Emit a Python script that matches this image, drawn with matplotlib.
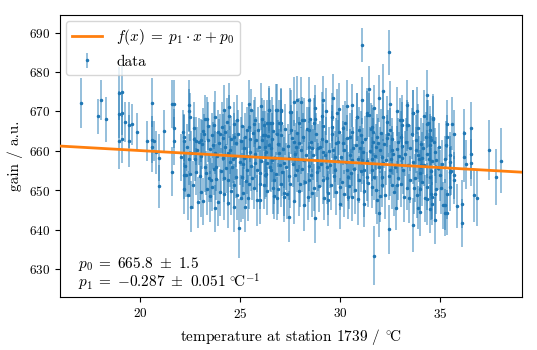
import matplotlib
matplotlib.use("Agg")
import matplotlib.pyplot as plt
import numpy as np
from matplotlib.colors import to_rgba

# --- data: temperature (x), gain (y), gain error ---
# sparse left part
temp_a = [17.03, 17.88, 18.0, 18.25, 18.95, 19.1, 18.95, 19.1, 18.95, 19.1,
          19.23, 19.45, 19.6, 19.45, 19.83, 20.32, 20.57, 20.6, 20.7, 20.57,
          20.8, 20.95, 20.95, 21.18, 21.57, 21.68, 21.68, 21.68, 21.58]
gain_a = [672.2, 668.8, 672.9, 668.0, 674.6, 675.0, 669.3, 669.5, 662.5, 663.0,
          667.3, 666.5, 666.8, 662.5, 664.7, 662.5, 672.2, 662.8, 662.5, 661.0,
          659.6, 658.3, 651.0, 665.0, 671.9, 671.9, 665.7, 662.5, 654.7]
err_a = [6.3, 4.4, 5.0, 5.7, 6.8, 6.5, 6.0, 5.5, 7.0, 6.0,
         5.0, 5.8, 5.2, 6.5, 4.8, 5.2, 6.2, 6.0, 5.0, 6.5,
         5.5, 6.0, 5.5, 5.5, 6.0, 6.2, 5.0, 6.0, 6.2]

# 22 - 26 degC
temp_b = [22.17, 22.2, 22.2, 22.3, 22.17, 22.42, 22.42, 22.5, 22.53, 22.67,
          22.78, 22.45, 22.55, 22.92, 23.03, 22.78, 23.02, 23.12, 23.17, 23.25,
          23.22, 23.37, 23.42, 23.52, 23.5, 23.62, 23.72, 23.75, 23.8, 23.87,
          23.87, 24.13, 24.17, 24.25, 24.2, 24.33, 24.37, 24.42, 24.45, 24.47,
          24.5, 24.58, 24.67, 24.75, 24.8, 24.85, 24.95, 25.02, 25.08, 25.17,
          25.22, 25.25, 25.33, 25.42, 25.33, 25.45, 25.5, 25.58, 25.7, 25.75,
          25.83, 25.92, 26.0, 26.05, 26.08, 26.12, 26.17, 23.33, 23.67, 23.97,
          24.2, 24.67, 25.08, 25.42, 25.53, 25.75, 26.2, 23.75, 24.67, 26.0]
gain_b = [663.4, 662.5, 653.8, 653.8, 650.4, 671.6, 670.2, 668.6, 645.8, 663.1,
          662.5, 657.8, 659.5, 662.3, 662.7, 654.7, 649.6, 665.0, 664.4, 668.2,
          656.0, 662.7, 653.0, 652.6, 648.5, 661.4, 659.5, 668.6, 655.8, 664.8,
          646.9, 663.3, 649.0, 661.0, 653.0, 667.4, 646.8, 671.2, 668.8, 660.2,
          657.2, 655.8, 663.6, 658.5, 653.4, 667.8, 640.3, 647.9, 653.4, 658.1,
          645.8, 663.6, 665.2, 666.1, 655.1, 651.7, 659.7, 653.0, 666.9, 656.8,
          655.1, 661.0, 651.7, 671.3, 668.0, 664.0, 651.3, 668.2, 666.5, 664.4,
          670.3, 666.9, 666.3, 672.0, 670.3, 667.8, 666.5, 645.4, 645.8, 647.5]
err_b = [6.0, 6.5, 6.0, 5.5, 6.5, 6.5, 5.5, 6.0, 6.5, 5.5,
         6.0, 6.5, 5.5, 6.0, 5.5, 6.0, 6.5, 6.0, 5.0, 6.0,
         6.5, 5.5, 6.0, 5.5, 6.5, 6.0, 5.5, 6.5, 6.0, 5.5,
         6.0, 6.0, 6.5, 5.5, 6.0, 6.0, 6.5, 6.0, 5.5, 6.0,
         6.5, 5.5, 6.0, 6.0, 5.5, 6.5, 7.5, 6.0, 6.0, 5.5,
         6.5, 6.0, 6.0, 5.5, 6.0, 6.5, 6.0, 5.5, 6.0, 6.0,
         5.5, 6.0, 6.5, 6.0, 5.5, 6.0, 6.0, 5.5, 6.0, 5.0,
         6.5, 5.5, 6.0, 6.0, 5.5, 6.0, 6.5, 6.0, 6.5, 6.0]

# 26 - 31 degC
temp_c = [26.45, 26.83, 27.05, 26.33, 26.58, 27.05, 27.55, 27.55, 26.58, 26.45,
          26.83, 26.92, 27.17, 27.42, 27.42, 26.33, 26.55, 26.67, 26.62, 26.83,
          27.05, 27.17, 27.33, 27.67, 27.8, 27.92, 27.72, 27.83, 28.0, 27.92,
          28.08, 28.2, 28.17, 28.17, 28.42, 28.5, 28.42, 28.58, 28.42, 28.58,
          28.67, 28.75, 28.75, 28.83, 28.92, 29.0, 29.12, 29.17, 29.25, 29.33,
          29.17, 29.38, 29.42, 29.58, 29.62, 29.67, 29.75, 29.75, 29.92, 30.0,
          30.0, 30.17, 30.25, 30.22, 30.33, 30.42, 30.38, 30.5, 30.58, 30.62,
          30.67, 26.25, 26.25, 26.3, 26.42, 26.5, 26.8, 26.92, 27.03, 27.5]
gain_c = [670.5, 670.5, 670.2, 667.0, 667.1, 667.0, 669.9, 665.4, 663.1, 661.4,
          664.4, 659.5, 657.0, 653.6, 643.3, 656.8, 655.1, 652.6, 650.5, 647.9,
          651.7, 648.3, 649.0, 662.3, 661.0, 662.0, 659.3, 655.1, 651.7, 667.0,
          667.8, 667.8, 657.6, 646.2, 665.2, 668.0, 661.0, 660.6, 652.6, 649.3,
          667.0, 668.2, 643.0, 657.6, 655.9, 661.0, 668.9, 666.3, 658.9, 655.9,
          652.6, 649.3, 647.5, 668.6, 666.1, 660.2, 658.5, 655.1, 662.3, 650.9,
          646.6, 665.7, 667.1, 660.2, 655.1, 653.4, 648.3, 663.6, 657.6, 648.2,
          660.6, 664.0, 661.0, 654.2, 670.5, 667.0, 670.5, 667.0, 670.5, 669.9]
err_c = [6.0, 6.5, 5.5, 6.0, 6.5, 6.0, 5.5, 6.2, 6.5, 6.0,
         5.5, 6.0, 6.5, 6.0, 6.5, 6.0, 5.5, 6.0, 6.5, 5.5,
         6.0, 6.5, 6.2, 5.5, 6.0, 6.5, 6.0, 5.5, 6.0, 6.5,
         6.0, 5.5, 6.2, 6.5, 6.0, 5.5, 6.5, 6.0, 5.5, 6.0,
         6.5, 6.0, 6.5, 5.5, 6.0, 6.5, 6.0, 5.5, 6.2, 6.5,
         6.0, 5.5, 6.5, 6.0, 5.5, 6.0, 6.5, 6.0, 5.5, 6.0,
         6.5, 6.0, 5.5, 6.0, 6.5, 6.2, 5.5, 6.0, 6.5, 6.0,
         5.5, 6.0, 6.5, 6.0, 5.5, 6.0, 6.5, 6.0, 5.5, 6.0]

# 31 - 35 degC (incl. outliers)
temp_d = [31.45, 31.7, 30.83, 30.95, 31.08, 31.33, 31.45, 31.22, 31.33, 31.0,
          31.12, 30.92, 31.22, 31.58, 31.67, 31.67, 31.78, 31.58, 31.72, 31.58,
          31.83, 31.95, 31.92, 32.0, 32.08, 32.17, 32.08, 32.17, 32.33, 32.42,
          32.5, 32.45, 32.58, 32.67, 32.5, 32.58, 32.83, 32.8, 32.92, 33.05,
          33.0, 33.08, 33.08, 33.17, 33.25, 33.33, 33.42, 33.33, 33.45, 33.67,
          33.72, 33.67, 33.78, 33.88, 33.92, 33.92, 34.08, 34.17, 34.25, 34.38,
          34.42, 34.5, 34.55, 34.5, 34.55, 34.62, 34.65, 34.75, 34.75, 34.83,
          35.0, 35.17, 31.08, 32.43]
gain_d = [675.6, 633.4, 668.6, 665.3, 662.3, 669.5, 669.1, 655.1, 653.4, 660.6,
          657.6, 647.7, 646.6, 666.1, 664.8, 662.3, 661.0, 655.1, 653.4, 650.9,
          647.5, 644.1, 661.9, 660.2, 658.5, 656.8, 653.4, 668.6, 667.4, 664.4,
          665.2, 640.1, 660.2, 659.3, 655.1, 651.3, 651.3, 645.6, 662.3, 663.6,
          667.8, 666.5, 658.1, 655.1, 659.3, 666.5, 666.5, 650.5, 647.9, 669.5,
          650.5, 641.1, 660.2, 658.9, 665.7, 645.6, 656.4, 660.6, 647.9, 674.2,
          667.0, 663.6, 662.7, 653.4, 649.0, 646.6, 668.4, 659.7, 642.4, 657.6,
          653.8, 646.2, 686.9, 685.0]
err_d = [6.0, 7.4, 6.2, 5.8, 6.0, 6.5, 5.5, 6.0, 6.2, 5.8,
         6.0, 6.5, 6.0, 5.5, 6.2, 6.0, 5.8, 6.5, 6.0, 5.5,
         6.2, 6.0, 6.5, 5.8, 6.0, 6.2, 5.5, 6.0, 6.5, 6.0,
         5.8, 6.2, 6.0, 5.5, 6.5, 6.0, 6.2, 5.8, 6.0, 6.5,
         5.5, 6.0, 6.2, 6.0, 5.8, 6.5, 6.0, 5.5, 6.2, 6.0,
         6.5, 6.8, 5.8, 6.0, 6.2, 5.5, 6.0, 6.5, 6.0, 6.3,
         6.0, 5.8, 6.2, 6.0, 6.5, 5.5, 6.0, 6.2, 6.0, 5.8,
         6.5, 6.0, 4.4, 5.7]

temp_e = [34.38, 34.53, 34.53, 34.13, 34.38, 34.62, 34.62, 34.53, 34.38, 34.0,
          34.0, 34.0, 34.75]
gain_e = [666.8, 665.3, 661.4, 658.3, 659.2, 657.4, 648.3, 645.2, 647.7, 644.5,
          650.2, 654.3, 649.0]
err_e = [6.2, 6.0, 5.8, 6.5, 6.0, 6.2, 5.5, 6.0, 6.5, 6.2, 6.0, 5.8, 6.5]

# sparse right part
temp_f = [35.12, 35.25, 35.37, 35.62, 35.37, 35.5, 35.5, 35.5, 35.5, 35.25,
          35.25, 35.37, 35.37, 35.73, 35.73, 35.73, 35.87, 36.1, 36.1, 36.22,
          36.22, 36.33, 36.58, 36.58, 36.58, 36.72, 36.85, 37.45, 37.82, 38.07]
gain_f = [656.6, 657.8, 666.9, 666.9, 663.4, 658.9, 657.2, 654.7, 650.7, 646.3,
          644.3, 649.0, 644.3, 664.2, 653.8, 652.6, 646.0, 646.6, 641.7, 664.6,
          658.5, 656.6, 665.9, 659.3, 657.0, 648.7, 647.9, 660.3, 653.3, 657.5]
err_f = [6.2, 6.0, 6.1, 6.8, 5.8, 6.0, 6.5, 6.2, 6.0, 6.5,
         6.0, 6.2, 5.8, 6.3, 6.0, 6.2, 5.7, 6.1, 6.1, 6.1,
         6.5, 6.2, 6.6, 6.4, 6.0, 6.8, 7.0, 7.6, 7.1, 8.2]

# upper edge of the cloud
temp_g = [28.42, 29.13, 29.63, 29.97, 30.58, 30.83, 31.33, 32.17, 31.97, 32.5,
          33.08, 33.33, 33.67, 34.67, 27.67, 27.83, 28.03, 28.75, 29.3, 29.83,
          30.33, 31.1, 31.7, 32.83, 33.83, 34.2]
gain_g = [672.9, 672.9, 673.5, 670.7, 671.6, 668.6, 669.1, 675.2, 673.3, 672.0,
          667.9, 671.6, 669.5, 668.2, 672.5, 673.0, 672.3, 671.0, 670.0, 669.6,
          671.5, 672.8, 670.8, 670.0, 670.2, 668.9]
err_g = [5.8, 6.2, 6.0, 6.5, 5.5, 6.0, 6.2, 6.8, 6.0, 5.8,
         6.2, 6.5, 6.0, 5.8, 6.2, 6.0, 6.5, 5.8, 6.0, 6.2,
         6.5, 6.0, 5.8, 6.2, 6.0, 6.5]

# dense core of the cloud
temp_h = [22.05, 22.12, 22.25, 22.35, 22.38, 22.48, 22.62, 22.7, 22.74, 22.85,
          22.88, 22.97, 23.05, 23.08, 23.15, 23.28, 23.35, 23.4, 23.47, 23.58,
          23.6, 23.68, 23.78, 23.85, 23.92, 23.98, 24.03, 24.1, 24.15, 24.22,
          24.28, 24.38, 24.4, 24.52, 24.55, 24.62, 24.7, 24.78, 24.83, 24.9,
          24.97, 25.03, 25.12, 25.15, 25.2, 25.28, 25.36, 25.4, 25.47, 25.55,
          25.62, 25.68, 25.72, 25.8, 25.85, 25.9, 25.97, 26.03, 26.07, 26.22,
          26.28, 26.35, 26.4, 26.48, 26.52, 26.6, 26.65, 26.7, 26.75, 26.8,
          26.87, 26.9, 26.97, 27.02, 27.08, 27.12, 27.2, 27.25, 27.3, 27.38,
          27.45, 27.5, 27.58, 27.62, 27.7, 27.75, 27.85, 27.88, 27.95, 28.03,
          28.1, 28.13, 28.22, 28.27, 28.33, 28.38, 28.45, 28.52, 28.55, 28.62,
          28.7, 28.78, 28.82, 28.88, 28.95, 29.03, 29.08, 29.15, 29.2, 29.28,
          29.35, 29.45, 29.5, 29.53, 29.6, 29.7, 29.78, 29.82, 29.88, 29.95,
          30.05, 30.08, 30.13, 30.2, 30.28, 30.35, 30.45, 30.48, 30.55, 30.6,
          30.7, 30.75, 30.8, 30.88, 30.97, 31.03, 31.07, 31.15, 31.2, 31.27,
          31.35, 31.4, 31.5, 31.55, 31.62, 31.75, 31.8, 31.87, 31.93, 31.98,
          32.03, 32.12, 32.2, 32.25, 32.3, 32.37, 32.45, 32.55, 32.62, 32.7,
          32.75, 32.85, 32.9, 32.97, 33.03, 33.12, 33.2, 33.28, 33.38, 33.48,
          33.52, 33.6, 33.65, 33.75, 33.8, 33.85, 33.95, 34.05, 34.1, 34.2,
          34.3, 34.35, 34.45, 34.58, 34.7, 34.8, 34.9, 34.95, 35.08, 35.3,
          35.58]
gain_h = [658.4, 664.9, 656.1, 660.9, 648.7, 654.2, 651.3, 665.8, 657.9, 660.1,
          646.9, 653.5, 658.8, 661.7, 647.2, 654.4, 650.2, 666.3, 660.4, 663.9,
          650.8, 655.3, 652.9, 658.7, 662.0, 649.5, 654.8, 666.0, 658.3, 664.7,
          655.6, 659.4, 652.5, 663.0, 649.7, 658.0, 651.2, 661.9, 648.9, 664.3,
          657.1, 662.4, 656.7, 649.3, 660.8, 652.4, 658.8, 648.0, 663.1, 656.2,
          664.5, 650.6, 659.2, 662.7, 647.4, 665.4, 654.3, 657.5, 662.8, 653.8,
          659.6, 649.8, 663.7, 655.9, 660.7, 657.6, 665.1, 648.6, 658.3, 654.0,
          661.8, 650.4, 656.5, 663.9, 654.7, 660.5, 649.2, 665.5, 656.0, 661.2,
          658.2, 651.6, 663.3, 656.6, 647.3, 653.8, 664.6, 658.0, 649.9, 660.1,
          655.4, 663.4, 652.0, 658.9, 665.6, 648.4, 656.1, 662.2, 653.9, 659.0,
          650.6, 664.2, 654.6, 660.8, 651.0, 656.7, 663.0, 659.6, 648.0, 662.6,
          653.1, 660.0, 656.3, 651.2, 664.2, 653.6, 661.9, 649.6, 657.4, 664.8,
          658.4, 652.2, 662.0, 649.1, 657.1, 663.2, 651.1, 659.0, 654.4, 664.9,
          655.5, 650.0, 661.6, 657.9, 652.7, 664.0, 655.0, 659.7, 649.8, 662.9,
          657.5, 651.9, 660.0, 665.6, 657.9, 658.6, 650.1, 663.6, 655.9, 648.5,
          664.6, 651.2, 661.8, 648.8, 657.7, 663.3, 653.5, 657.8, 662.9, 649.5,
          656.0, 660.4, 653.2, 658.6, 651.7, 661.2, 648.4, 662.3, 656.3, 660.8,
          652.7, 664.3, 657.2, 653.1, 662.8, 648.9, 657.9, 661.8, 652.0, 656.5,
          663.6, 650.9, 658.0, 654.8, 662.3, 650.2, 655.6, 661.0, 650.5, 661.6,
          655.0]
err_h = [6.0, 5.5, 6.5, 6.0, 6.2, 5.8, 6.0, 6.5, 5.5, 6.0,
         6.5, 6.0, 5.8, 6.2, 6.0, 5.5, 6.5, 6.0, 6.2, 5.8,
         6.0, 6.5, 5.5, 6.0, 6.2, 6.0, 5.8, 6.5, 6.0, 5.5,
         6.2, 6.0, 6.5, 5.8, 6.0, 6.2, 5.5, 6.0, 6.5, 6.0,
         5.8, 6.2, 6.0, 6.5, 5.5, 6.0, 6.2, 5.8, 6.0, 6.5,
         6.0, 5.5, 6.2, 6.0, 6.5, 5.8, 6.0, 6.2, 5.5, 6.0,
         6.5, 6.0, 5.8, 6.2, 6.0, 5.5, 6.5, 6.0, 6.2, 5.8,
         6.0, 6.5, 5.5, 6.0, 6.2, 6.0, 5.8, 6.5, 6.0, 5.5,
         6.2, 6.0, 6.5, 5.8, 6.0, 6.2, 5.5, 6.0, 6.5, 6.0,
         5.8, 6.2, 6.0, 6.5, 5.5, 6.0, 6.2, 5.8, 6.0, 6.5,
         6.0, 5.5, 6.2, 6.0, 6.5, 5.8, 6.0, 6.2, 5.5, 6.0,
         6.5, 6.0, 5.8, 6.2, 6.0, 5.5, 6.5, 6.0, 6.2, 5.8,
         6.0, 6.5, 5.5, 6.0, 6.2, 6.0, 5.8, 6.5, 6.0, 5.5,
         6.2, 6.0, 6.5, 5.8, 6.0, 6.2, 5.5, 6.0, 6.5, 6.0,
         5.8, 6.2, 6.0, 6.5, 5.5, 6.0, 6.2, 5.8, 6.0, 6.5,
         6.0, 5.5, 6.2, 6.0, 6.5, 5.8, 6.0, 6.2, 5.5, 6.0,
         6.5, 6.0, 5.8, 6.2, 6.0, 5.5, 6.5, 6.0, 6.2, 5.8,
         6.0, 6.5, 5.5, 6.0, 6.2, 6.0, 5.8, 6.5, 6.0, 5.5,
         6.2, 6.0, 6.5, 5.8, 6.0, 6.2, 5.5, 6.0, 6.5, 6.0,
         6.2]

# fit result
p0, p0_err = 665.8, 1.5
p1, p1_err = -0.287, 0.051

temperature = np.concatenate([temp_a, temp_b, temp_c, temp_d, temp_e, temp_f, temp_g, temp_h])
gain = np.concatenate([gain_a, gain_b, gain_c, gain_d, gain_e, gain_f, gain_g, gain_h])
gain_err = np.concatenate([err_a, err_b, err_c, err_d, err_e, err_f, err_g, err_h])

plt.rcParams["font.family"] = "serif"
plt.rcParams["font.serif"] = ["cmr10"]
plt.rcParams["mathtext.fontset"] = "cm"
plt.rcParams["axes.formatter.use_mathtext"] = True
plt.rcParams["axes.unicode_minus"] = False

fig = plt.figure(figsize=(5.37, 3.5), dpi=100)
ax = fig.add_axes([0.111, 0.1506, 0.8605, 0.8065])

ax.errorbar(temperature, gain, yerr=gain_err, fmt=".", ms=3, color="C0",
            ecolor=to_rgba("C0", 0.6), elinewidth=1.1, label="data", zorder=2)

xlim = (15.95, 39.1)
xs = np.array(xlim)
ax.plot(xs, p1 * xs + p0, color="C1", lw=2,
        label=r"$f(x)\;=\;p_1\:\cdot\:x\:+\:p_0$", zorder=3)

ax.set_xlim(*xlim)
ax.set_ylim(622.8, 694.5)
ax.set_xticks([20, 25, 30, 35])
ax.set_yticks(np.arange(630, 691, 10))
ax.tick_params(labelsize=9.5)

ax.set_xlabel(r"temperature at station 1739 / $^{\circ}\!\mathrm{C}$", fontsize=11)
ax.set_ylabel("gain / a.u.", fontsize=11)

ax.legend(loc="upper left", fontsize=11, borderaxespad=0.4, handletextpad=0.9)

p1_str = ("%.3f" % p1).replace("-", "{-}")
ax.text(0.04, 0.015,
        r"$p_0\;=\;%.1f\ \pm\ %.1f$" % (p0, p0_err) + "\n" +
        r"$p_1\;=\;%s\ \pm\ %.3f\;^{\circ}\!\mathrm{C}^{-1}$" % (p1_str, p1_err),
        transform=ax.transAxes, fontsize=11, va="bottom", ha="left",
        linespacing=0.9)

fig.savefig("out.png", dpi=100)
